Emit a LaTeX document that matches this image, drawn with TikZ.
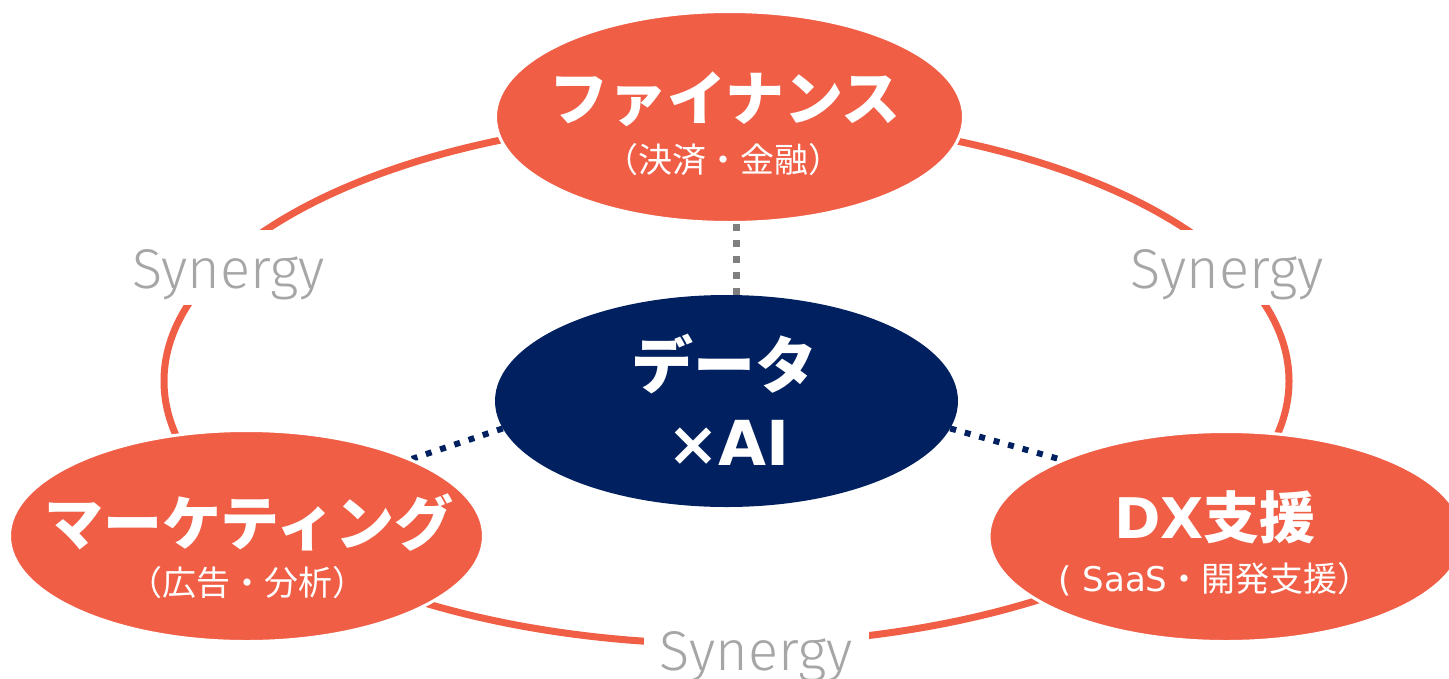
\documentclass[tikz,border=0pt]{standalone}
\usepackage{fontspec}
\usetikzlibrary{shapes.geometric,calc}
\newfontfamily\jp{Noto Sans CJK JP}
\newfontfamily\lat{DejaVu Sans}
\newfontfamily\synfont{Fira Sans Light}
\definecolor{orng}{HTML}{F05E46}
\definecolor{navy}{HTML}{002060}
\definecolor{syngray}{HTML}{A6A6A6}
\definecolor{dotgray}{HTML}{7F7F7F}
\pgfdeclarelayer{bg}
\pgfsetlayers{bg,main}
\begin{document}
\begin{tikzpicture}[x=1pt,y=-1pt,
  blob/.style={ellipse, fill=orng, draw=white, line width=3pt, inner sep=0pt},
  core/.style={ellipse, fill=navy, inner sep=0pt},
  ttl/.style={text=white, font=\jp\bfseries\fontsize{59}{60}\selectfont, inner sep=0pt},
  sub/.style={text=white, font=\jp\fontsize{34}{36}\selectfont, inner sep=0pt},
  syn/.style={fill=white, text=syngray, font=\synfont\fontsize{56}{60}\selectfont, inner sep=0pt, minimum width=225pt, text height=58pt, text depth=17pt, anchor=base},
  ring/.style={draw=orng, line width=7pt},
  gdots/.style={draw=dotgray, line width=7pt, dash pattern=on 7pt off 9pt},
  ndots/.style={draw=navy, line width=6pt, dash pattern=on 6pt off 9pt}]
\useasboundingbox (0,0) rectangle (1449,678);
\begin{pgfonlayer}{bg}
\fill[white] (0,0) rectangle (1449,678);
\draw[ring] (726.5,381) ellipse [x radius=562.5pt, y radius=263pt];
\node[syn] (synl) at (228.5,288) {Synergy};
\node[syn] (synr) at (1227,288) {Synergy};
\node[syn] (synb) at (756,670) {Synergy};
\end{pgfonlayer}

\node[blob, minimum width=468pt, minimum height=211pt] (fin) at (729.5,117) {};
\node[core, minimum width=463pt, minimum height=212pt] (data) at (726.5,401) {};
\node[blob, minimum width=474pt, minimum height=211pt] (mk) at (246.5,536) {};
\node[blob, minimum width=474pt, minimum height=210pt] (dx) at (1226,536.5) {};

\node[ttl] (fint) at (725,99.5) {ファイナンス};
\node[sub] (fins) at (723.5,160) {（決済・金融）};
\node[ttl] (mkt) at (249,522.5) {マーケティング};
\node[sub] (mks) at (247.5,583) {（広告・分析）};
\node[ttl, font=\jp\bfseries\fontsize{56}{60}\selectfont] (dxt) at (1215,517.5) {{\lat DX}支援};
\node[sub] (dxs) at (1215,579) {{\lat ( SaaS}・開発支援）};
\node[ttl, font=\jp\bfseries\fontsize{62}{64}\selectfont] (dat) at (724.5,364) {データ};
\node[ttl, font=\lat\bfseries\fontsize{62}{64}\selectfont] (dax) at (728.5,442.5) {×AI};

\coordinate (gx) at (736,0);
\begin{pgfonlayer}{bg}
\draw[gdots] (fin.south -| gx) -- (data.north -| gx);
\draw[ndots] (data.187) -- (mk.25);
\draw[ndots] (data.-7) -- (dx.155);
\end{pgfonlayer}
\end{tikzpicture}
\end{document}
